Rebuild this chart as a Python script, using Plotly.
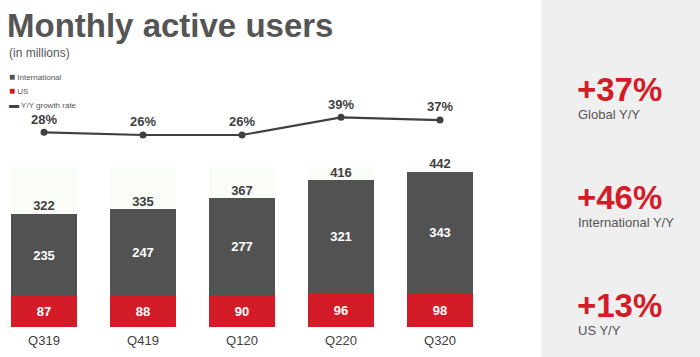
import plotly.graph_objects as go

quarters = ["Q319", "Q419", "Q120", "Q220", "Q320"]
international = [235, 247, 277, 321, 343]
us = [87, 88, 90, 96, 98]
totals = [322, 335, 367, 416, 442]
growth = [28, 26, 26, 39, 37]
growth_labels = ["28%", "26%", "26%", "39%", "37%"]

kpi_values = ["+37%", "+46%", "+13%"]
kpi_labels = ["Global Y/Y", "International Y/Y", "US Y/Y"]

W, H = 700, 357
L, R, T, B = 0, 159, 100, 30
PW, PH = W - L - R, H - T - B

DARK = "#525252"
RED = "#d31c27"
TXT = "#555555"


def px(x):
    return (x - L) / PW


def py(y):
    return (H - B - y) / PH


fig = go.Figure()

fig.add_trace(go.Bar(
    x=quarters, y=us, name="US", marker=dict(color=RED, line=dict(width=0)),
    text=[str(v) for v in us], textposition="inside", insidetextanchor="middle",
    textfont=dict(color="white", size=13, family="Liberation Sans", weight="bold"),
    width=0.667, showlegend=False, hoverinfo="skip",
))
fig.add_trace(go.Bar(
    x=quarters, y=international, name="International",
    marker=dict(color=DARK, line=dict(width=0)),
    text=[str(v) for v in international], textposition="inside", insidetextanchor="middle",
    textfont=dict(color="white", size=13, family="Liberation Sans", weight="bold"),
    width=0.667, showlegend=False, hoverinfo="skip",
))
fig.add_trace(go.Scatter(
    x=quarters, y=totals, mode="text", text=[str(v) for v in totals],
    textposition="top center",
    textfont=dict(color="#404040", size=13, family="Liberation Sans", weight="bold"),
    showlegend=False, cliponaxis=False, hoverinfo="skip",
))
fig.add_trace(go.Scatter(
    x=quarters, y=growth, yaxis="y2", mode="lines+markers+text",
    text=growth_labels, textposition="top center",
    textfont=dict(color="#404040", size=13, family="Liberation Sans", weight="bold"),
    line=dict(color="#404040", width=2.2), marker=dict(color="#404040", size=7),
    showlegend=False, cliponaxis=False, hoverinfo="skip",
))

shapes = [
    dict(type="rect", xref="paper", yref="paper", x0=px(541), x1=px(700),
         y0=py(357), y1=py(0), fillcolor="#efefef", line=dict(width=0), layer="below"),
]
for i in range(len(quarters)):
    shapes.append(dict(type="rect", xref="x", yref="paper", x0=i - 0.333, x1=i + 0.333,
                       y0=0, y1=py(167), fillcolor="#fafcf7", line=dict(width=0), layer="below"))

ann = []
ann.append(dict(text="<b>Monthly active users</b>", x=px(5), y=py(26), xref="paper", yref="paper",
                xanchor="left", yanchor="middle", showarrow=False,
                font=dict(size=33, color=TXT, family="Liberation Sans")))
ann.append(dict(text="(in millions)", x=px(7), y=py(53), xref="paper", yref="paper",
                xanchor="left", yanchor="middle", showarrow=False,
                font=dict(size=12, color=TXT, family="Liberation Sans")))
legend_items = [("■", DARK, "International", 76), ("■", RED, "US", 90), ("▬", "#404040", "Y/Y growth rate", 104)]
for sym, col, lab, yy in legend_items:
    ann.append(dict(text=f'<span style="color:{col};font-size:10px">{sym}</span> {lab}', x=px(7), y=py(yy),
                    xref="paper", yref="paper", xanchor="left", yanchor="middle", showarrow=False,
                    font=dict(size=8, color=TXT, family="Liberation Sans")))

kpi_y = [(89.5, 114), (197, 222), (305.5, 330.5)]
for v, lab, (y1, y2) in zip(kpi_values, kpi_labels, kpi_y):
    ann.append(dict(text=f"<b>{v}</b>", x=px(575), y=py(y1), xref="paper", yref="paper",
                    xanchor="left", yanchor="middle", showarrow=False,
                    font=dict(size=33, color=RED, family="Liberation Sans")))
    ann.append(dict(text=lab, x=px(576), y=py(y2), xref="paper", yref="paper",
                    xanchor="left", yanchor="middle", showarrow=False,
                    font=dict(size=13, color=TXT, family="Liberation Sans")))

fig.update_layout(
    width=W, height=H, margin=dict(l=L, r=R, t=T, b=B),
    paper_bgcolor="white", plot_bgcolor="white",
    barmode="stack", bargap=0,
    xaxis=dict(range=[-44 / 99, (PW - 44) / 99], showgrid=False, zeroline=False, showline=False,
               ticks="", ticklabelstandoff=4, fixedrange=True,
               tickfont=dict(size=13, color="#404040", family="Liberation Sans")),
    yaxis=dict(range=[0, PH / 0.352], visible=False, showgrid=False, fixedrange=True),
    yaxis2=dict(range=[26 - 192 / 1.36, 26 - 192 / 1.36 + PH / 1.36], overlaying="y",
                visible=False, showgrid=False, fixedrange=True),
    shapes=shapes, annotations=ann, showlegend=False,
)

fig.write_html("out.html", config={"displayModeBar": False},
               post_script="document.body.style.margin='0';document.body.style.padding='0';")
